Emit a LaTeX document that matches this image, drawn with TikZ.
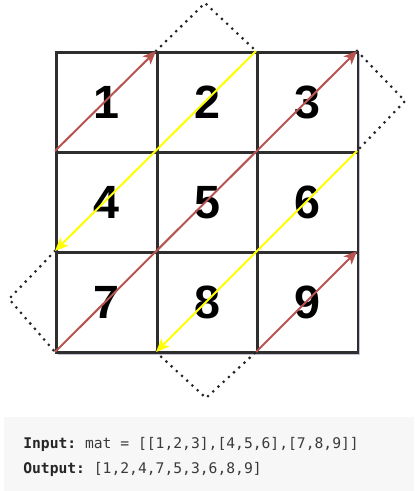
\documentclass[tikz,border=0pt]{standalone}
\usepackage{fontspec}
\setmainfont{Liberation Sans}
\setmonofont{DejaVu Sans Mono}
\usetikzlibrary{arrows.meta}
\definecolor{gridc}{HTML}{2E2E2E}
\definecolor{redarr}{HTML}{B85450}
\definecolor{yelarr}{HTML}{FFFF00}
\definecolor{boxbg}{HTML}{F7F7F8}
\definecolor{shadowc}{HTML}{C4C4D4}
\definecolor{codetxt}{HTML}{3A3A3A}
\tikzset{
  cellbox/.style={draw=gridc, line width=1.9pt, fill=white, minimum width=75.4pt, minimum height=75.2pt, inner sep=0pt, anchor=north west},
  digit/.style={font=\fontsize{35}{35}\selectfont\bfseries, text=black},
  redline/.style={draw=redarr, line width=1.5pt, -{Stealth[length=10pt,width=8.5pt,inset=2.5pt]}},
  yelline/.style={draw=yelarr, line width=1.5pt, -{Stealth[length=10pt,width=8.5pt,inset=2.5pt]}},
  dotline/.style={draw=black!85, line width=2.3pt, line cap=round, dash pattern=on 0pt off 5.3pt},
  codeline/.style={font=\ttfamily\fontsize{11}{12}\selectfont, text=codetxt, anchor=base west, inner sep=0pt}
}
\begin{document}
\begin{tikzpicture}[x=0.75pt,y=-0.75pt]
\useasboundingbox (0,0) rectangle (414,491);
% grid corner coordinates
\coordinate (c00) at (55,51);   \coordinate (c10) at (156,51);  \coordinate (c20) at (256,51);  \coordinate (c30) at (357,51);
\coordinate (c01) at (55,151);  \coordinate (c11) at (156,151); \coordinate (c21) at (256,151); \coordinate (c31) at (357,151);
\coordinate (c02) at (55,251);  \coordinate (c12) at (156,251); \coordinate (c22) at (256,251); \coordinate (c32) at (357,251);
\coordinate (c03) at (55,352);  \coordinate (c13) at (156,352); \coordinate (c23) at (256,352); \coordinate (c33) at (357,352);
% dotted apexes
\coordinate (dtop) at (205,3);
\coordinate (dright) at (405,101);
\coordinate (dleft) at (9,299);
\coordinate (dbot) at (206,398);
% shadow
\fill[shadowc] (58,54) rectangle (360,355);
% cells
\node[cellbox] (n1) at (c00) {};
\node[cellbox] (n2) at (c10) {};
\node[cellbox] (n3) at (c20) {};
\node[cellbox] (n4) at (c01) {};
\node[cellbox] (n5) at (c11) {};
\node[cellbox] (n6) at (c21) {};
\node[cellbox] (n7) at (c02) {};
\node[cellbox] (n8) at (c12) {};
\node[cellbox] (n9) at (c22) {};
% digits
\node[digit] (t1) at (n1.center) {1};
\node[digit] (t2) at (n2.center) {2};
\node[digit] (t3) at (n3.center) {3};
\node[digit] (t4) at (n4.center) {4};
\node[digit] (t5) at (n5.center) {5};
\node[digit] (t6) at (n6.center) {6};
\node[digit] (t7) at (n7.center) {7};
\node[digit] (t8) at (n8.center) {8};
\node[digit] (t9) at (n9.center) {9};
% dotted diamonds
\draw[dotline] (c10) -- (dtop) -- (c20);
\draw[dotline] (c30) -- (dright) -- (c31);
\draw[dotline] (c02) -- (dleft) -- (c03);
\draw[dotline] (c13) -- (dbot) -- (c23);
% arrows
\draw[redline] (c01) -- (c10);
\draw[yelline] (c20) -- (c02);
\draw[redline] (c03) -- (c30);
\draw[yelline] (c31) -- (c13);
\draw[redline] (c23) -- (c32);
% code box
\fill[boxbg] (4,417) rectangle (414,491);
\node[codeline] (inp) at (23,448) {\textbf{\color{black!85}Input:} mat = [[1,2,3],[4,5,6],[7,8,9]]};
\node[codeline] (outp) at (23,473) {\textbf{\color{black!85}Output:} [1,2,4,7,5,3,6,8,9]};
\end{tikzpicture}
\end{document}
